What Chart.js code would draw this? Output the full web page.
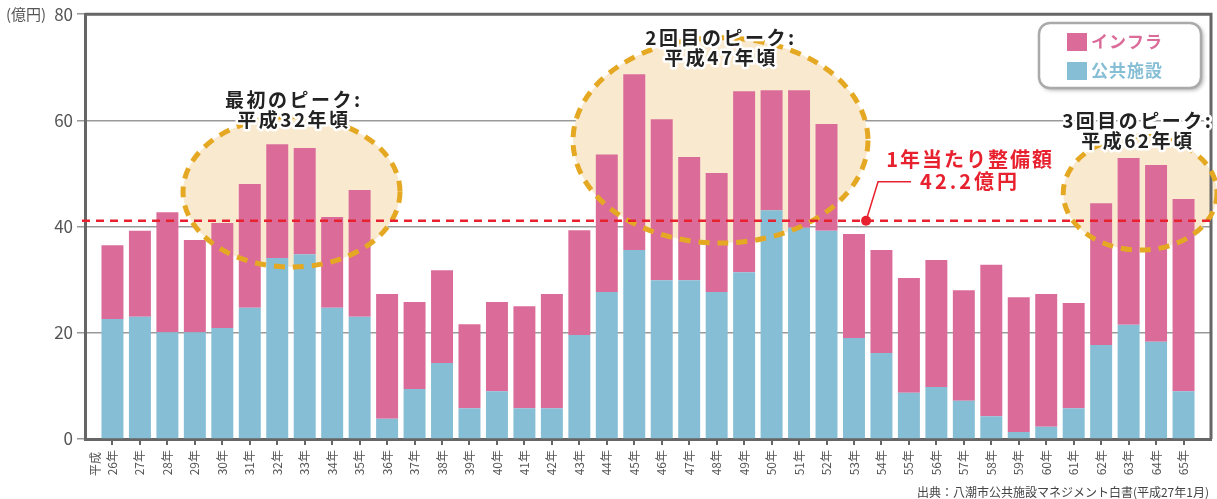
<!DOCTYPE html>
<html lang="ja">
<head>
<meta charset="utf-8">
<title>整備額の推移</title>
<script src="https://cdn.jsdelivr.net/npm/chart.js@4.4.1/dist/chart.umd.min.js"></script>
<style>
  html, body { margin: 0; padding: 0; background: #fff; }
  #wrap { width: 1217px; height: 499px; position: relative; }
</style>
</head>
<body>
<div id="wrap"><canvas id="grafico" width="1217" height="499"></canvas></div>
<script>
// --- datos (億円) ---
const years = [26, 27, 28, 29, 30, 31, 32, 33, 34, 35, 36, 37, 38, 39, 40, 41, 42, 43, 44, 45,
               46, 47, 48, 49, 50, 51, 52, 53, 54, 55, 56, 57, 58, 59, 60, 61, 62, 63, 64, 65];
const publicValues = [22.6, 23.0, 20.1, 20.1, 20.9, 24.7, 34.1, 34.8, 24.7, 23.0, 3.8, 9.4, 14.3, 5.8, 9.0, 5.8, 5.8, 19.6, 27.7, 35.6,
                      29.9, 29.9, 27.7, 31.4, 43.1, 39.8, 39.2, 19.0, 16.2, 8.7, 9.8, 7.2, 4.3, 1.3, 2.3, 5.8, 17.7, 21.5, 18.3, 9.0];
const infraValues = [13.9, 16.2, 22.6, 17.4, 19.8, 23.3, 21.4, 20.0, 17.1, 23.9, 23.5, 16.4, 17.5, 15.8, 16.8, 19.2, 21.5, 19.7, 25.9, 33.1,
                     30.3, 23.2, 22.4, 34.1, 22.6, 25.9, 20.1, 19.6, 19.4, 21.6, 23.9, 20.8, 28.5, 25.4, 25.0, 19.8, 26.7, 31.4, 33.3, 36.2];
const yTicks = [0, 20, 40, 60, 80];
const seriesNames = ['公共施設', 'インフラ'];
const avgLevel = 41.1;            // altura a la que está dibujada la línea roja
const avgText = ['1年当たり整備額', '42.2億円'];
const peakTexts = [['最初のピーク:', '平成32年頃'], ['2回目のピーク:', '平成47年頃'], ['3回目のピーク:', '平成62年頃']];

const colores = { infra: '#db6c9a', publico: '#86bed5', eje: '#666', texto: '#555', rojo: '#e8212e', naranja: '#e5a823', crema: '#f9e9cf' };
const FUENTE = '"Noto Sans CJK JP", "Noto Sans", sans-serif';

// elipses en unidades de datos: centro x/y, radios
const elipses = [
  { cx: 32.52, cy: 46.55, rx: 3.95, ry: 14.17, tx: 32.57, ty: 63.8 },
  { cx: 48.14, cy: 56.23, rx: 5.37, ry: 19.33, tx: 48.12, ty: 75.5 },
  { cx: 63.42, cy: 46.31, rx: 2.80, ry: 10.73, tx: 63.30, ty: 59.9 }
];

function textoConBorde(ctx, txt, x, y, color) {
  ctx.lineJoin = 'round';
  ctx.lineWidth = 5;
  ctx.strokeStyle = '#fff';
  ctx.strokeText(txt, x, y);
  ctx.fillStyle = color;
  ctx.fillText(txt, x, y);
}

function trazarElipse(ctx, chart, e) {
  const { x: xs, y: ys } = chart.scales;
  const cx = xs.getPixelForValue(e.cx), cy = ys.getPixelForValue(e.cy);
  const rx = xs.getPixelForValue(e.cx + e.rx) - cx, ry = cy - ys.getPixelForValue(e.cy + e.ry);
  ctx.beginPath();
  ctx.ellipse(cx, cy, rx, ry, 0, 0, Math.PI * 2);
}

const fondoPicos = {
  id: 'fondoPicos',
  beforeDatasetsDraw(chart) {
    const ctx = chart.ctx;
    ctx.save();
    ctx.fillStyle = colores.crema;
    elipses.forEach(e => { trazarElipse(ctx, chart, e); ctx.fill(); });
    ctx.restore();
  }
};

const anotaciones = {
  id: 'anotaciones',
  afterDatasetsDraw(chart) {
    const ctx = chart.ctx;
    const { left, right, top, bottom } = chart.chartArea;
    const xs = chart.scales.x, ys = chart.scales.y;
    ctx.save();

    // bordes superior y derecho
    ctx.strokeStyle = colores.eje;
    ctx.lineWidth = 3;
    ctx.beginPath();
    ctx.moveTo(left, top); ctx.lineTo(right, top); ctx.lineTo(right, bottom);
    ctx.stroke();

    // elipses punteadas
    ctx.strokeStyle = colores.naranja;
    ctx.lineWidth = 5;
    ctx.setLineDash([11, 8]);
    elipses.forEach(e => { trazarElipse(ctx, chart, e); ctx.stroke(); });

    // línea del promedio
    const yAvg = ys.getPixelForValue(avgLevel);
    ctx.strokeStyle = colores.rojo;
    ctx.lineWidth = 2.5;
    ctx.setLineDash([8, 6]);
    ctx.beginPath();
    ctx.moveTo(left - 3, yAvg); ctx.lineTo(right, yAvg);
    ctx.stroke();
    ctx.setLineDash([]);

    // punto y guía
    const xDot = xs.getPixelForValue(53.44);
    ctx.fillStyle = colores.rojo;
    ctx.beginPath(); ctx.arc(xDot, yAvg, 5, 0, Math.PI * 2); ctx.fill();
    ctx.lineWidth = 1.5;
    ctx.beginPath();
    ctx.moveTo(xDot, yAvg); ctx.lineTo(xDot + 12, yAvg - 39); ctx.lineTo(xDot + 45, yAvg - 39);
    ctx.stroke();

    // textos
    ctx.textAlign = 'center';
    ctx.textBaseline = 'middle';
    ctx.font = 'bold 20px ' + FUENTE;
    ctx.letterSpacing = '2px';
    textoConBorde(ctx, avgText[0], xDot + 104, yAvg - 61, colores.rojo);
    ctx.letterSpacing = '3px';
    textoConBorde(ctx, avgText[1], xDot + 104, yAvg - 39, colores.rojo);

    ctx.font = 'bold 19px ' + FUENTE;
    ctx.letterSpacing = '2.5px';
    elipses.forEach((e, i) => {
      const tx = xs.getPixelForValue(e.tx), ty = ys.getPixelForValue(e.ty);
      textoConBorde(ctx, peakTexts[i][0], tx + 1, ty, '#222');
      textoConBorde(ctx, peakTexts[i][1], tx + 1, ty + 20, '#222');
    });
    ctx.letterSpacing = '0px';

    // leyenda
    const lx = 1039, ly = 23, lw = 162, lh = 65;
    ctx.save();
    ctx.shadowColor = 'rgba(0,0,0,0.35)';
    ctx.shadowBlur = 4;
    ctx.shadowOffsetX = 2;
    ctx.shadowOffsetY = 2;
    ctx.fillStyle = '#fff';
    ctx.beginPath(); ctx.roundRect(lx, ly, lw, lh, 11); ctx.fill();
    ctx.restore();
    ctx.strokeStyle = '#aaa';
    ctx.lineWidth = 2.5;
    ctx.beginPath(); ctx.roundRect(lx, ly, lw, lh, 11); ctx.stroke();

    const items = [[seriesNames[1], colores.infra], [seriesNames[0], colores.publico]];
    ctx.textAlign = 'left';
    ctx.font = 'bold 17px ' + FUENTE;
    ctx.letterSpacing = '1px';
    items.forEach(([nombre, col], i) => {
      const yy = ly + 19 + i * 29;
      ctx.fillStyle = col;
      ctx.fillRect(lx + 28, yy - 9, 20, 18);
      ctx.fillText(nombre, lx + 52, yy);
    });

    ctx.restore();
  },
  afterDraw(chart) {
    const ctx = chart.ctx;
    const { left, bottom } = chart.chartArea;
    ctx.save();
    ctx.fillStyle = '#555';
    ctx.font = '15px ' + FUENTE;
    ctx.textBaseline = 'middle';
    ctx.textAlign = 'left';
    ctx.fillText('(億円)', 6, 14);

    // "平成" junto a la primera etiqueta
    ctx.font = '12px ' + FUENTE;
    ctx.translate(left + 10, bottom + 13);
    ctx.rotate(-Math.PI / 2);
    ctx.textAlign = 'right';
    ctx.fillText('平成', 0, 0);
    ctx.restore();

    ctx.save();
    ctx.fillStyle = '#444';
    ctx.font = '12px ' + FUENTE;
    ctx.textAlign = 'right';
    ctx.textBaseline = 'middle';
    ctx.fillText('出典：八潮市公共施設マネジメント白書(平成27年1月)', 1209, 492);
    ctx.restore();
  }
};

const ctx = document.getElementById('grafico').getContext('2d');
new Chart(ctx, {
  type: 'bar',
  data: {
    datasets: [
      { label: seriesNames[0], data: years.map((y, i) => ({ x: y, y: publicValues[i] })), backgroundColor: colores.publico },
      { label: seriesNames[1], data: years.map((y, i) => ({ x: y, y: infraValues[i] })), backgroundColor: colores.infra }
    ]
  },
  options: {
    responsive: false,
    animation: false,
    devicePixelRatio: 1,
    barPercentage: 0.8,
    categoryPercentage: 1,
    layout: { padding: { top: 14, right: 6, left: 0, bottom: 0 } },
    plugins: { legend: { display: false }, tooltip: { enabled: false } },
    scales: {
      x: {
        type: 'linear', min: 25, max: 66, stacked: true, offset: false,
        afterBuildTicks: s => { s.ticks = years.map(v => ({ value: v })); },
        afterFit: s => { s.height = 60; },
        border: { color: colores.eje, width: 3 },
        grid: { offset: false, drawOnChartArea: false, drawTicks: true, tickLength: 6, color: colores.eje, lineWidth: 2 },
        ticks: { autoSkip: false, minRotation: 90, maxRotation: 90, padding: 5, color: colores.texto,
                 font: { family: FUENTE, size: 12 }, callback: v => v + '年' }
      },
      y: {
        min: 0, max: 80, stacked: true,
        afterBuildTicks: s => { s.ticks = yTicks.map(v => ({ value: v })); },
        afterFit: s => { s.width = 85; },
        border: { color: colores.eje, width: 3 },
        grid: { color: '#999', lineWidth: 1.5, tickLength: 8 },
        ticks: { color: colores.texto, padding: 4, font: { family: FUENTE, size: 17 } }
      }
    }
  },
  plugins: [fondoPicos, anotaciones]
});
</script>
</body>
</html>
